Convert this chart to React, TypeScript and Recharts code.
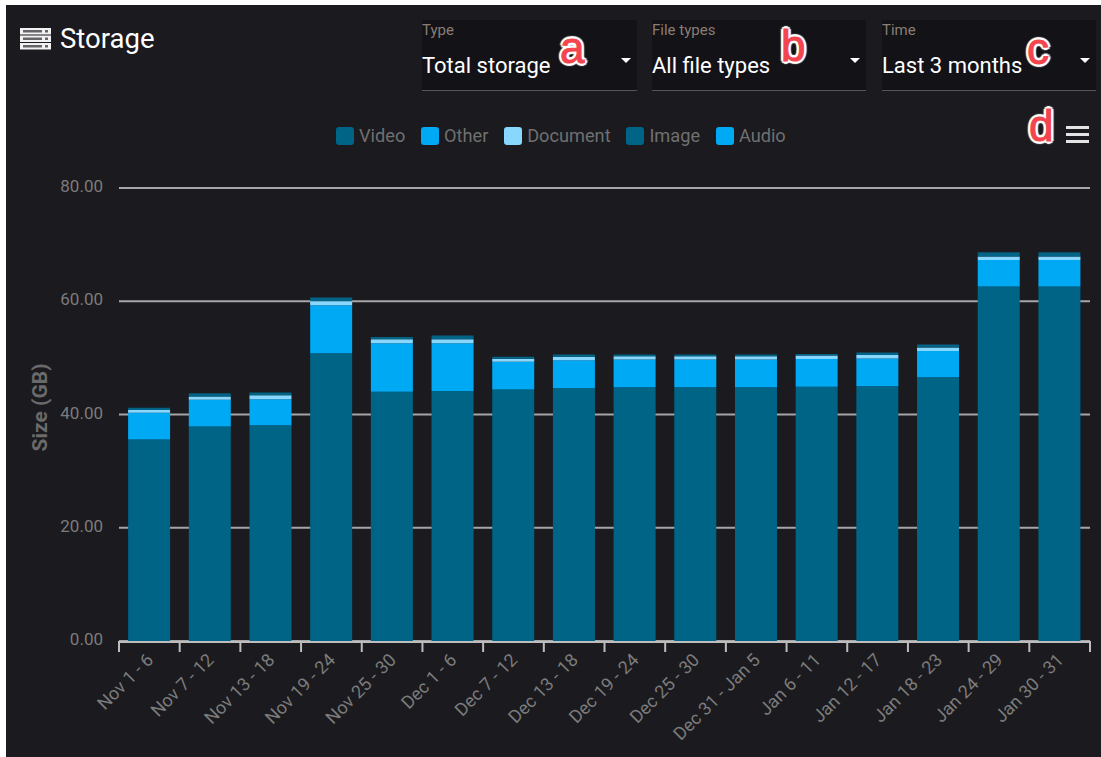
import { Bar, BarChart, CartesianGrid, Label, Legend, XAxis, YAxis } from "recharts";

const categories = [
  "Nov 1 - 6", "Nov 7 - 12", "Nov 13 - 18", "Nov 19 - 24", "Nov 25 - 30", "Dec 1 - 6", "Dec 7 - 12", "Dec 13 - 18",
  "Dec 19 - 24", "Dec 25 - 30", "Dec 31 - Jan 5", "Jan 6 - 11", "Jan 12 - 17", "Jan 18 - 23", "Jan 24 - 29", "Jan 30 - 31",
];
const video = [35.6, 37.9, 38.1, 50.8, 44.0, 44.15, 44.4, 44.7, 44.8, 44.8, 44.8, 44.9, 45.0, 46.6, 62.6, 62.6];
const other = [4.7, 4.7, 4.6, 8.5, 8.6, 8.45, 4.9, 4.9, 4.9, 4.9, 4.9, 4.9, 4.9, 4.6, 4.7, 4.7];
const documents = [0.5, 0.6, 0.7, 0.7, 0.7, 0.7, 0.55, 0.6, 0.6, 0.6, 0.6, 0.6, 0.6, 0.65, 0.6, 0.6];
const image = [0.38, 0.48, 0.48, 0.58, 0.38, 0.58, 0.33, 0.38, 0.28, 0.28, 0.28, 0.28, 0.38, 0.43, 0.68, 0.68];
const audio = [0.02, 0.02, 0.02, 0.02, 0.02, 0.02, 0.02, 0.02, 0.02, 0.02, 0.02, 0.02, 0.02, 0.02, 0.02, 0.02];
const yTicks = [0, 20, 40, 60, 80];
const legendOrder = ["Video", "Other", "Document", "Image", "Audio"];

const data = categories.map((name, i) => ({
  name,
  Video: video[i],
  Other: other[i],
  Document: documents[i],
  Image: image[i],
  Audio: audio[i],
}));

const DARK = "#006487";
const BLUE = "#00a9f4";
const LIGHT = "#87d7ff";
const BAND = 971 / categories.length;
const font = "Roboto, sans-serif";

function CategoryTick({ x, y, index, payload }: any) {
  const axisY = y - 7;
  return (
    <g>
      <line x1={x - BAND / 2 - 1} x2={x + BAND / 2 + 1} y1={axisY} y2={axisY} stroke="#bdbdbd" strokeWidth={2} />
      <line x1={x - BAND / 2} x2={x - BAND / 2} y1={axisY} y2={axisY + 10} stroke="#bdbdbd" strokeWidth={2} />
      {index === categories.length - 1 && (
        <line x1={x + BAND / 2} x2={x + BAND / 2} y1={axisY} y2={axisY + 10} stroke="#bdbdbd" strokeWidth={2} />
      )}
      <text
        x={x + 5}
        y={y + 12}
        textAnchor="end"
        transform={`rotate(-45 ${x + 5} ${y + 12})`}
        fill="#7c7c7c"
        fontSize={18}
        fontFamily={font}
      >
        {payload.value}
      </text>
    </g>
  );
}

function LegendRow({ payload }: any) {
  const entries = payload ?? [];
  const items = legendOrder.map((name) => entries.find((entry: any) => entry.value === name)).filter(Boolean);
  return (
    <div style={{ display: "flex", gap: 15.8, fontFamily: font, fontSize: 18.2, color: "#707070", lineHeight: "20px" }}>
      {items.map((entry: any) => (
        <span key={entry.value} style={{ display: "flex", alignItems: "center", gap: 5 }}>
          <span style={{ width: 18, height: 18, borderRadius: 3, background: entry.color }} />
          {entry.value}
        </span>
      ))}
    </div>
  );
}

function Select({ left, width, label, value }: { left: number; width: number; label: string; value: string }) {
  return (
    <div style={{ position: "absolute", left, top: 20, width, height: 70, background: "#121217", borderBottom: "1px solid #555", fontFamily: font }}>
      <div style={{ position: "absolute", left: 0, top: 1, fontSize: 15, color: "#8b7d74" }}>{label}</div>
      <div style={{ position: "absolute", left: 0, top: 33, fontSize: 22, color: "#fff" }}>{value}</div>
      <div style={{ position: "absolute", right: 6, top: 38, borderLeft: "5px solid transparent", borderRight: "5px solid transparent", borderTop: "5px solid #fff" }} />
    </div>
  );
}

const outline = [
  [3, 0], [-3, 0], [0, 3], [0, -3], [2, 2], [-2, 2], [2, -2], [-2, -2],
].map(([a, b]) => `${a}px ${b}px 1px #fff`).join(", ");

function Badge({ left, top, text }: { left: number; top: number; text: string }) {
  return (
    <div
      style={{
        position: "absolute",
        left,
        top,
        fontFamily: "Liberation Sans, sans-serif",
        fontSize: 44,
        lineHeight: "44px",
        color: "#f4444e",
        WebkitTextStroke: "1px #f4444e",
        textShadow: outline,
      }}
    >
      {text}
    </div>
  );
}

function StorageIcon() {
  return (
    <svg width={31} height={22} viewBox="0 0 31 22" style={{ position: "absolute", left: 20, top: 28 }}>
      {[0, 7.5, 15].map((y) => (
        <g key={y}>
          <rect x={0} y={y} width={31} height={6.5} fill="#f2f2f2" />
          <rect x={3} y={y + 2} width={19} height={2.5} fill="#66666a" />
          <rect x={25} y={y + 2} width={3} height={2.5} fill="#66666a" />
        </g>
      ))}
    </svg>
  );
}

export default function App() {
  return (
    <div style={{ position: "fixed", left: 0, top: 0, width: 1101, height: 757, background: "#fff", overflow: "hidden" }}>
      <div style={{ position: "absolute", left: 6, top: 5, width: 1095, height: 752, background: "#1a1a1f" }} />
      <BarChart
        width={1101}
        height={757}
        data={data}
        margin={{ top: 188, right: 11, bottom: 0, left: 0 }}
        barCategoryGap="15%"
        style={{ position: "absolute", left: 0, top: 0 }}
      >
        <CartesianGrid vertical={false} stroke="#a6a6a8" strokeWidth={2} />
        <XAxis dataKey="name" interval={0} height={116} tickLine={false} axisLine={false} tick={<CategoryTick />} />
        <YAxis
          width={119}
          domain={[0, 80]}
          ticks={yTicks}
          tickFormatter={(v: number) => v.toFixed(2)}
          axisLine={false}
          tickLine={false}
          tickMargin={10}
          tick={{ fill: "#7c7c7c", fontSize: 17, fontFamily: font, dy: -2 }}
        >
          <Label
            value="Size (GB)"
            angle={-90}
            position="insideLeft"
            offset={40}
            dy={-7}
            style={{ fill: "#6a6a6a", fontSize: 21, fontWeight: 700, fontFamily: font, textAnchor: "middle" }}
          />
        </YAxis>
        <Legend
          layout="horizontal"
          verticalAlign="middle"
          content={<LegendRow />}
          wrapperStyle={{ position: "absolute", left: 336, top: 126, width: 480 }}
        />
        <Bar dataKey="Video" stackId="s" fill={DARK} isAnimationActive={false} />
        <Bar dataKey="Other" stackId="s" fill={BLUE} isAnimationActive={false} />
        <Bar dataKey="Document" stackId="s" fill={LIGHT} isAnimationActive={false} />
        <Bar dataKey="Image" stackId="s" fill={DARK} isAnimationActive={false} />
        <Bar dataKey="Audio" stackId="s" fill={BLUE} isAnimationActive={false} />
      </BarChart>

      <StorageIcon />
      <div style={{ position: "absolute", left: 60, top: 22, fontFamily: font, fontSize: 27.5, color: "#fff" }}>Storage</div>
      <Select left={422} width={215} label="Type" value="Total storage" />
      <Select left={652} width={214} label="File types" value="All file types" />
      <Select left={882} width={214} label="Time" value="Last 3 months" />
      <Badge left={560} top={26} text="a" />
      <Badge left={781} top={24} text="b" />
      <Badge left={1027} top={27} text="c" />
      <Badge left={1029} top={104} text="d" />
      <div style={{ position: "absolute", left: 1066, top: 126, width: 23, height: 2.5, background: "#e4e4e4", boxShadow: "0 7px 0 #e4e4e4, 0 14px 0 #e4e4e4" }} />
    </div>
  );
}
